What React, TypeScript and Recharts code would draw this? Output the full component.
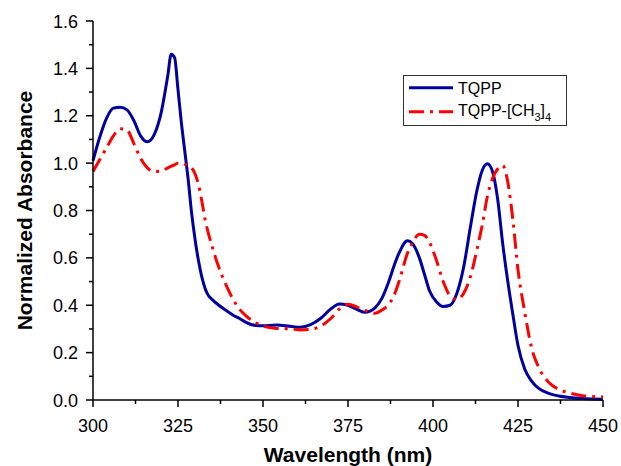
import { LineChart, Line, XAxis, YAxis, Legend } from 'recharts';

const wavelength = [
  300, 302, 304, 306, 308, 310, 312, 314, 316, 318, 320, 322, 323, 324, 325, 326, 327, 328, 329, 330,
  331, 332, 333, 334, 335, 337, 339, 341, 343, 345, 348, 350, 354, 358, 361, 364, 367, 370, 372.5, 375,
  378, 380, 383, 385, 387, 388.5, 390, 392.5, 394, 396, 397.5, 399, 401, 403, 405, 407, 409, 411, 413, 414.5,
  416, 417.5, 419, 420.5, 422, 423.5, 425, 427, 429, 431, 434, 437, 440, 444, 450,
];

const tqpp = [
  1.01, 1.11, 1.19, 1.232, 1.236, 1.225, 1.18, 1.115, 1.09, 1.12, 1.21, 1.37, 1.46, 1.445, 1.31, 1.17, 1.05, 0.93, 0.79, 0.68,
  0.59, 0.52, 0.47, 0.44, 0.425, 0.4, 0.38, 0.36, 0.345, 0.328, 0.314, 0.313, 0.317, 0.311, 0.307, 0.318, 0.345, 0.385, 0.405, 0.4,
  0.38, 0.37, 0.39, 0.43, 0.5, 0.565, 0.62, 0.672, 0.66, 0.6, 0.53, 0.46, 0.415, 0.395, 0.4, 0.45, 0.56, 0.73, 0.89, 0.97,
  0.997, 0.965, 0.85, 0.66, 0.5, 0.36, 0.23, 0.13, 0.08, 0.05, 0.028, 0.017, 0.011, 0.006, 0.003,
];

const tqppMethyl = [
  0.965, 1.015, 1.065, 1.115, 1.145, 1.14, 1.083, 1.02, 0.98, 0.965, 0.967, 0.98, 0.987, 0.993, 1.0, 1.0, 0.995, 0.99, 0.98, 0.955,
  0.91, 0.84, 0.76, 0.7, 0.65, 0.56, 0.49, 0.43, 0.385, 0.355, 0.325, 0.312, 0.302, 0.3, 0.296, 0.298, 0.312, 0.345, 0.385, 0.404,
  0.39, 0.378, 0.366, 0.38, 0.405, 0.44, 0.5, 0.62, 0.665, 0.7, 0.695, 0.665, 0.59, 0.5, 0.44, 0.425, 0.45, 0.52, 0.64, 0.74,
  0.86, 0.935, 0.975, 0.99, 0.92, 0.76, 0.55, 0.37, 0.22, 0.14, 0.075, 0.045, 0.03, 0.018, 0.013,
];

const xMajorTicks = [300, 325, 350, 375, 400, 425, 450];
const xAllTicks = [300, 312.5, 325, 337.5, 350, 362.5, 375, 387.5, 400, 412.5, 425, 437.5, 450];
const yAllTicks = [0, 0.1, 0.2, 0.3, 0.4, 0.5, 0.6, 0.7, 0.8, 0.9, 1.0, 1.1, 1.2, 1.3, 1.4, 1.5, 1.6];

const data = wavelength.map((wl, i) => ({ wl, tqpp: tqpp[i], methyl: tqppMethyl[i] }));

const FONT = '"Liberation Sans", Arial, sans-serif';
const BLUE = '#0000a0';
const RED = '#ff0000';
const DASH = '15 6 3 6';

const XTick = ({ x, y, payload }: any) => {
  const major = xMajorTicks.includes(payload.value);
  return (
    <g>
      <line x1={x} x2={x} y1={y} y2={y + (major ? 7 : 4)} stroke="#000" strokeWidth={1.5} />
      {major && (
        <text x={x} y={y + 32} textAnchor="middle" fontSize={18} fontFamily={FONT} fill="#000">
          {payload.value}
        </text>
      )}
    </g>
  );
};

const YTick = ({ x, y, payload }: any) => {
  const major = Math.round(payload.value * 10) % 2 === 0;
  return (
    <g>
      <line x1={x - (major ? 7 : 4)} x2={x} y1={y} y2={y} stroke="#000" strokeWidth={1.5} />
      {major && (
        <text x={x - 15} y={y + 6.5} textAnchor="end" fontSize={18} fontFamily={FONT} fill="#000">
          {payload.value.toFixed(1)}
        </text>
      )}
    </g>
  );
};

const LegendBox = () => (
  <svg width={164} height={51} style={{ display: 'block' }}>
    <rect x={0.5} y={0.5} width={163} height={50} fill="#fff" stroke="#333" strokeWidth={1} />
    <line x1={6} x2={50} y1={12.7} y2={12.7} stroke={BLUE} strokeWidth={3} />
    <text x={55} y={19} fontSize={16} fontFamily={FONT} fill="#000">TQPP</text>
    <line x1={6} x2={50} y1={36.7} y2={36.7} stroke={RED} strokeWidth={3} strokeDasharray={DASH} />
    <text x={55} y={41} fontSize={16} fontFamily={FONT} fill="#000">
      TQPP-[CH
      <tspan fontSize={11} dy={5}>3</tspan>
      <tspan dy={-5}>]</tspan>
      <tspan fontSize={11} dy={5}>4</tspan>
    </text>
  </svg>
);

export default function App() {
  return (
    <div style={{ width: 621, height: 466, background: '#fff' }}>
      <style>{`body{margin:0}`}</style>
      <LineChart width={621} height={466} data={data} margin={{ top: 21, right: 18, bottom: 16, left: 33 }}>
        <XAxis
          dataKey="wl"
          type="number"
          domain={[300, 450]}
          ticks={xAllTicks}
          interval={0}
          height={50}
          tickSize={0}
          tickMargin={0}
          tick={<XTick />}
          axisLine={{ stroke: '#000', strokeWidth: 1.5 }}
          tickLine={false}
          label={{
            content: ({ viewBox }: any) => (
              <text
                x={viewBox.x + viewBox.width / 2}
                y={viewBox.y + 61.5}
                textAnchor="middle"
                fontSize={21}
                fontWeight="bold"
                fontFamily={FONT}
                fill="#000"
              >
                Wavelength (nm)
              </text>
            ),
          }}
        />
        <YAxis
          type="number"
          domain={[0, 1.6]}
          ticks={yAllTicks}
          interval={0}
          width={60}
          tickSize={0}
          tickMargin={0}
          tick={<YTick />}
          axisLine={{ stroke: '#000', strokeWidth: 1.5 }}
          tickLine={false}
          label={{
            content: ({ viewBox }: any) => {
              const cy = viewBox.y + viewBox.height / 2;
              return (
                <text
                  x={32}
                  y={cy}
                  transform={`rotate(-90 32 ${cy})`}
                  textAnchor="middle"
                  fontSize={21}
                  fontWeight="bold"
                  fontFamily={FONT}
                  fill="#000"
                >
                  Normalized Absorbance
                </text>
              );
            },
          }}
        />
        <Legend
          layout="vertical"
          align="center"
          verticalAlign="middle"
          content={() => <LegendBox />}
          wrapperStyle={{ position: 'absolute', left: 403, top: 75, width: 164, height: 51 }}
        />
        <Line
          type="monotone"
          dataKey="tqpp"
          stroke={BLUE}
          strokeWidth={3}
          dot={false}
          activeDot={false}
          isAnimationActive={false}
        />
        <Line
          type="monotone"
          dataKey="methyl"
          stroke={RED}
          strokeWidth={3}
          strokeDasharray={DASH}
          dot={false}
          activeDot={false}
          isAnimationActive={false}
        />
      </LineChart>
    </div>
  );
}
